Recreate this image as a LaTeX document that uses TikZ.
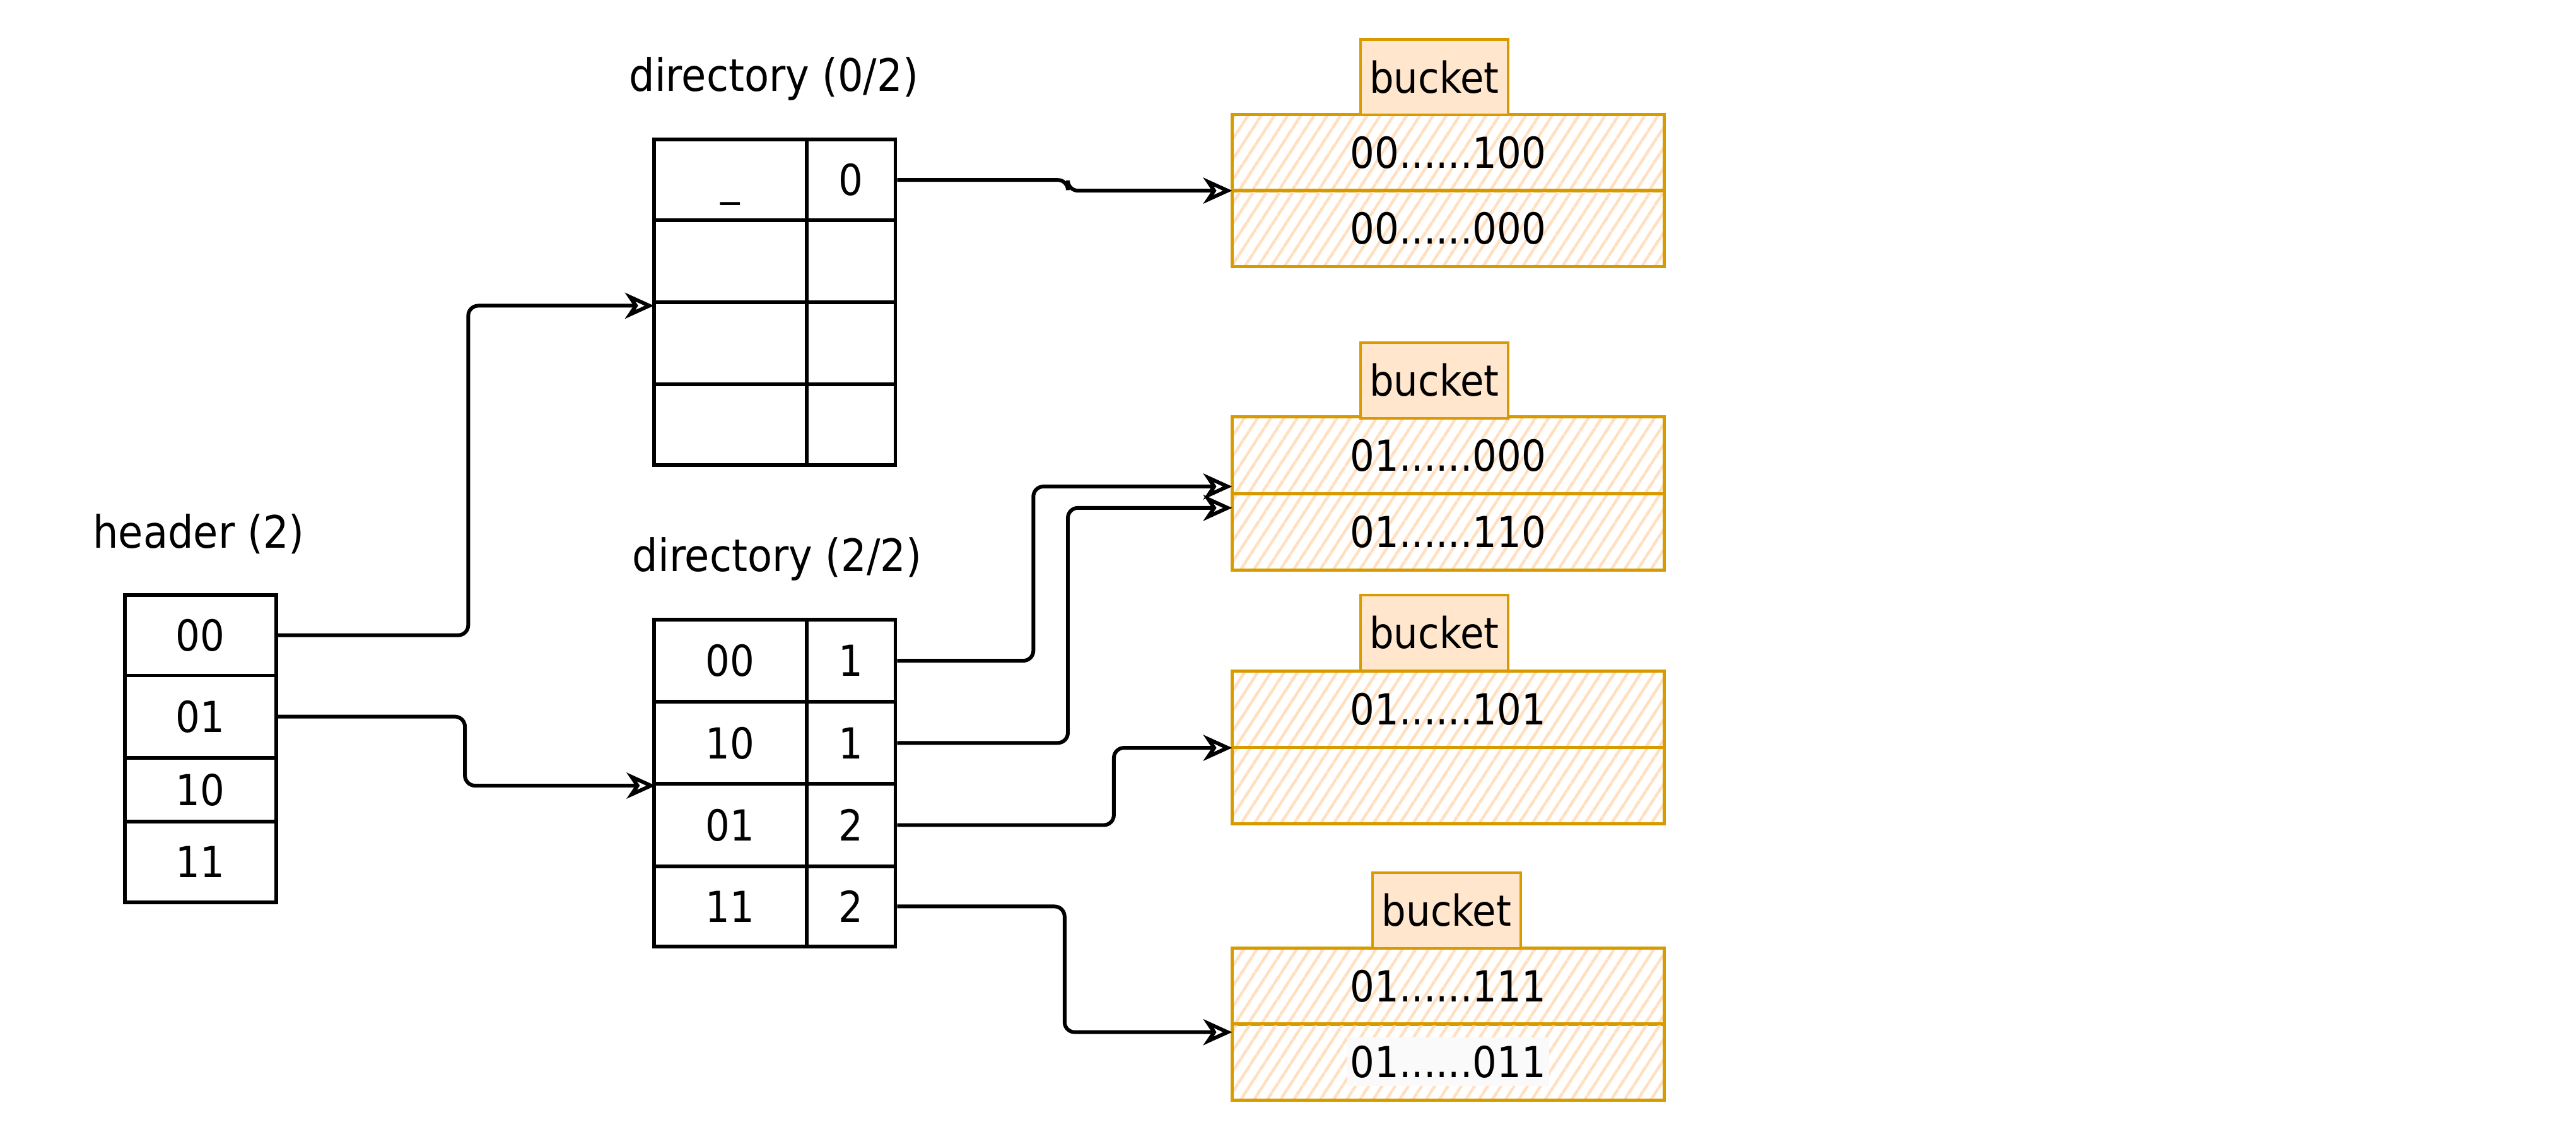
\documentclass[tikz,border=0pt]{standalone}
\usepackage{fontspec}
\setmainfont{DejaVu Sans}[FakeStretch=0.9]
\usetikzlibrary{arrows.meta,patterns.meta}

\definecolor{bucketline}{HTML}{D79B00}
\definecolor{bucketfill}{HTML}{FFE6CC}
\definecolor{hatch}{HTML}{FFDFBF}

\begin{document}
\begin{tikzpicture}[x=0.02cm,y=-0.02cm,
  every node/.style={font=\fontsize{14.8}{17}\selectfont, inner sep=0pt},
  celltext/.style={text height=10.8pt, text depth=0pt},
  title/.style={font=\fontsize{15.5}{18}\selectfont},
  hcell/.style={draw, line width=1.3pt, celltext, minimum width=1.84cm, minimum height=#1},
  lcell/.style={draw, line width=1.3pt, celltext, minimum width=1.86cm, minimum height=#1},
  rcell/.style={draw, line width=1.3pt, celltext, minimum width=1.08cm, minimum height=#1},
  brow/.style={draw=bucketline, line width=1.1pt, celltext,
    pattern={Lines[angle=57, distance=4pt, line width=1.1pt]}, pattern color=hatch,
    minimum width=5.26cm, minimum height=0.93cm},
  btab/.style={draw=bucketline, line width=0.9pt, fill=bucketfill, celltext,
    minimum width=1.8cm, minimum height=0.92cm},
  conn/.style={line width=1.3pt, rounded corners=3.5pt,
    -{Stealth[open, length=10pt, width=9pt, inset=3pt, line width=1.3pt]}}
]
\path[use as bounding box] (0,0) rectangle (1568,693);

% titles
\node[title] (thdr)  at (121,325) {header (2)};
\node[title] (tdir0) at (471,48)  {directory (0/2)};
\node[title] (tdir2) at (473,340) {directory (2/2)};

% header table
\node[hcell=0.98cm] (h00) at (122,386.5) {00};
\node[hcell=1.00cm] (h01) at (122,436)   {01};
\node[hcell=0.78cm] (h10) at (122,480.5) {10};
\node[hcell=0.98cm] (h11) at (122,524.5) {11};

% directory (0/2)
\node[lcell=0.98cm] (d0a) at (444.5,109.5) {\_};
\node[rcell=0.98cm] (d0A) at (518,109.5)   {0};
\node[lcell=1.00cm] (d0b) at (444.5,159)   {};
\node[rcell=1.00cm] (d0B) at (518,159)     {};
\node[lcell=1.00cm] (d0c) at (444.5,209)   {};
\node[rcell=1.00cm] (d0C) at (518,209)     {};
\node[lcell=0.98cm] (d0d) at (444.5,258.5) {};
\node[rcell=0.98cm] (d0D) at (518,258.5)   {};

% directory (2/2)
\node[lcell=1.00cm] (d2a) at (444.5,402)   {00};
\node[rcell=1.00cm] (d2A) at (518,402)     {1};
\node[lcell=1.00cm] (d2b) at (444.5,452)   {10};
\node[rcell=1.00cm] (d2B) at (518,452)     {1};
\node[lcell=1.00cm] (d2c) at (444.5,502)   {01};
\node[rcell=1.00cm] (d2C) at (518,502)     {2};
\node[lcell=0.98cm] (d2d) at (444.5,551.5) {11};
\node[rcell=0.98cm] (d2D) at (518,551.5)   {2};

% buckets
\node[brow] (b1a) at (881.5,93)    {00......100};
\node[brow] (b1b) at (881.5,139)   {00......000};
\node[btab] (b1t) at (873,47)      {bucket};

\node[brow] (b2a) at (881.5,277)   {01......000};
\node[brow] (b2b) at (881.5,323.5) {01......110};
\node[btab] (b2t) at (873,231.5)   {bucket};

\node[brow] (b3a) at (881.5,431.5) {01......101};
\node[brow] (b3b) at (881.5,478)   {};
\node[btab] (b3t) at (873,385)     {bucket};

\node[brow] (b4a) at (881.5,600)   {01......111};
\node[brow] (b4b) at (881.5,646)   {};
\node[fill=black!2, inner xsep=1pt, inner ysep=3pt, celltext] (b4l) at (881.5,646) {01......011};
\node[btab] (b4t) at (880.5,554)   {bucket};

% arrow end points
\coordinate (inD0) at (398,186);
\coordinate (inD2) at (399,478);
\coordinate (inB1) at (750,116);
\coordinate (inB2a) at (750,296);
\coordinate (inB2b) at (750,309);
\coordinate (inB3) at (750,455);
\coordinate (inB4) at (750,628);

% connectors
\draw[conn] (h00.east) -- (285,386.5) -- (285,186) -- (inD0);
\draw[conn] (h01.east) -- (283,436) -- (283,478) -- (inD2);
\draw[conn] (d0A.east) -- (650,109.5) -- (650,116) -- (inB1);
\draw[conn] (d2A.east) -- (629,402) -- (629,296) -- (inB2a);
\draw[conn] (d2B.east) -- (650,452) -- (650,309) -- (inB2b);
\draw[conn] (d2C.east) -- (678,502) -- (678,455) -- (inB3);
\draw[conn] (d2D.east) -- (648,551.5) -- (648,628) -- (inB4);
\end{tikzpicture}
\end{document}
